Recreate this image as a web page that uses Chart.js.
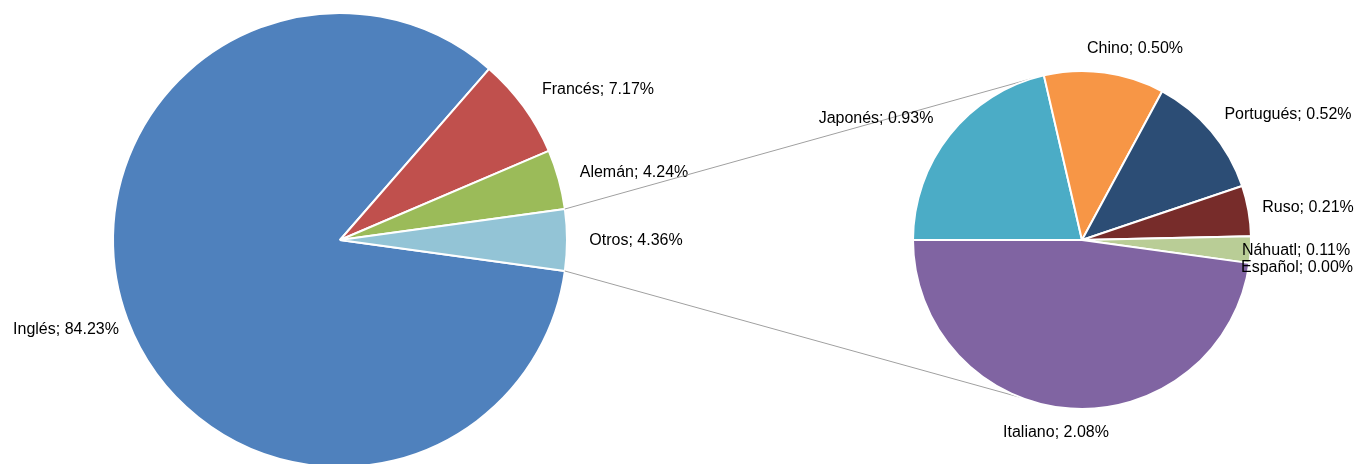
<!DOCTYPE html>
<html>
<head>
<meta charset="utf-8">
<script src="https://cdn.jsdelivr.net/npm/chart.js@4.4.1/dist/chart.umd.min.js"></script>
<style>
  html, body { margin: 0; padding: 0; background: #fff; }
  #wrap { position: relative; width: 1356px; height: 464px; overflow: hidden; }
  #wrap canvas { position: absolute; left: 0; top: 0; }
</style>
</head>
<body>
<div id="wrap">
  <canvas id="principal" width="1356" height="480"></canvas>
  <canvas id="secundario" width="1356" height="480"></canvas>
</div>
<script>
// pie principal
const idiomas = ['Inglés', 'Francés', 'Alemán', 'Otros'];
const porcentajes = [84.23, 7.17, 4.24, 4.36];
// pie secundario (desglose de "Otros")
const otrosIdiomas = ['Japonés', 'Chino', 'Portugués', 'Ruso', 'Náhuatl', 'Español', 'Italiano'];
const otrosPorcentajes = [0.93, 0.50, 0.52, 0.21, 0.11, 0.00, 2.08];

const coloresPrincipal = ['#4F81BD', '#C0504D', '#9BBB59', '#93C4D6'];
const coloresSecundario = ['#4BACC6', '#F79646', '#2C4D75', '#772C2A', '#B9CD96', '#5F7530', '#8064A2'];

// centro del texto de cada etiqueta
const posEtiquetas = {
    'Inglés': [66, 330], 'Francés': [598, 90], 'Alemán': [634, 173], 'Otros': [636, 241],
    'Japonés': [876, 119], 'Chino': [1135, 49], 'Portugués': [1288, 115], 'Ruso': [1308, 208],
    'Náhuatl': [1296, 251], 'Español': [1297, 268], 'Italiano': [1056, 433]
};
const fuente = '16px "Liberation Sans", Arial, sans-serif';

function etiquetas(nombres, valores) {
    return {
        id: 'etiquetas',
        afterDraw(chart) {
            const ctx = chart.ctx;
            ctx.save();
            ctx.font = fuente;
            ctx.fillStyle = '#000';
            ctx.textAlign = 'center';
            ctx.textBaseline = 'middle';
            nombres.forEach((n, i) => {
                const p = posEtiquetas[n];
                ctx.fillText(n + '; ' + valores[i].toFixed(2) + '%', p[0], p[1]);
            });
            ctx.restore();
        }
    };
}

// Otros queda centrado en las 3 en punto
const mitadOtros = porcentajes[3] / 100 * 360 / 2;

const graficoPrincipal = new Chart(document.getElementById('principal'), {
    type: 'pie',
    data: {
        labels: idiomas,
        datasets: [{
            data: porcentajes,
            backgroundColor: coloresPrincipal,
            borderColor: '#fff',
            borderWidth: 2
        }]
    },
    options: {
        responsive: false,
        animation: false,
        rotation: 90 + mitadOtros,
        layout: { padding: { left: 112, right: 788, top: 12, bottom: 12 } },
        plugins: { legend: { display: false }, tooltip: { enabled: false } }
    },
    plugins: [etiquetas(idiomas, porcentajes)]
});

// líneas que unen "Otros" con el segundo pie
const conectores = {
    id: 'conectores',
    beforeDatasetsDraw(chart) {
        const a = graficoPrincipal.getDatasetMeta(0).data[3];
        const b = chart.getDatasetMeta(0).data[0];
        const ang = [252.6, 111.3].map(d => d * Math.PI / 180);
        const ctx = chart.ctx;
        ctx.save();
        ctx.strokeStyle = '#A0A0A0';
        ctx.lineWidth = 1;
        [a.startAngle, a.endAngle].forEach((t, i) => {
            ctx.beginPath();
            ctx.moveTo(a.x + a.outerRadius * Math.cos(t), a.y + a.outerRadius * Math.sin(t));
            ctx.lineTo(b.x + b.outerRadius * Math.cos(ang[i]), b.y + b.outerRadius * Math.sin(ang[i]));
            ctx.stroke();
        });
        ctx.restore();
    }
};

new Chart(document.getElementById('secundario'), {
    type: 'pie',
    data: {
        labels: otrosIdiomas,
        datasets: [{
            data: otrosPorcentajes,
            backgroundColor: coloresSecundario,
            borderColor: '#fff',
            borderWidth: 2
        }]
    },
    options: {
        responsive: false,
        animation: false,
        rotation: 270,
        layout: { padding: { left: 912, right: 104, top: 70, bottom: 70 } },
        plugins: { legend: { display: false }, tooltip: { enabled: false } }
    },
    plugins: [conectores, etiquetas(otrosIdiomas, otrosPorcentajes)]
});
</script>
</body>
</html>
